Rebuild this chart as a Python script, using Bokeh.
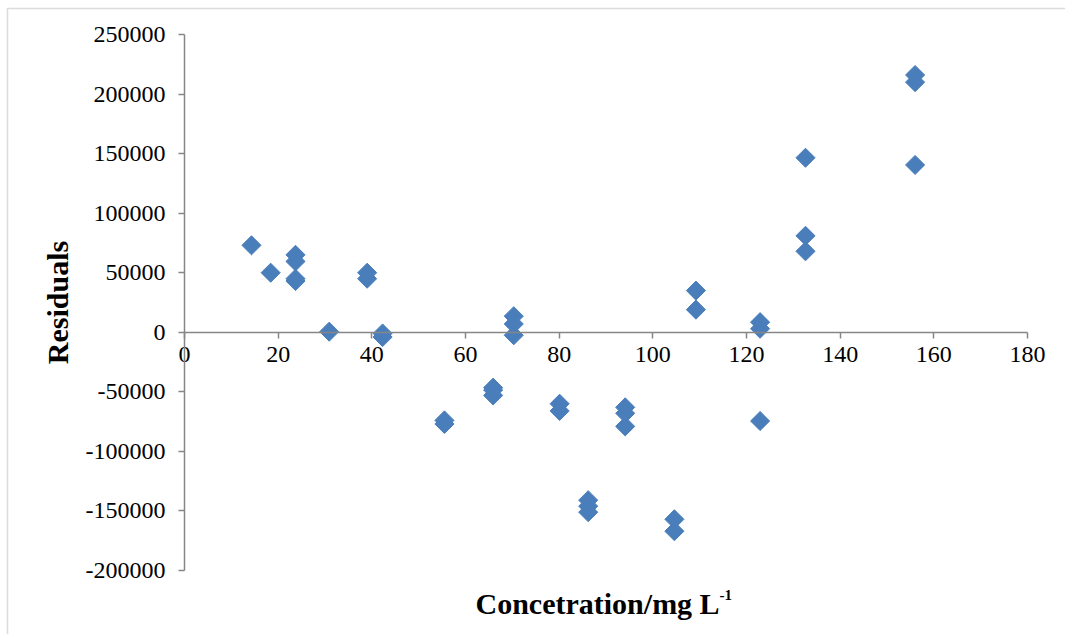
import math
from bokeh.plotting import figure
from bokeh.models import (Range1d, FixedTicker, NumeralTickFormatter, Label,
                          BoxAnnotation, ColumnDataSource, LinearAxis)
from bokeh.embed import file_html
from bokeh.resources import INLINE

# Residuals of the calibration fit, per standard concentration (mg/L)
conc = [14.3, 18.4, 23.7, 23.7, 23.7, 23.7, 30.9, 39.0, 39.0, 42.3, 42.3,
        55.5, 55.5, 65.9, 65.9, 65.9, 70.3, 70.3, 70.3, 80.1, 80.1,
        86.2, 86.2, 86.2, 94.1, 94.1, 94.1, 104.6, 104.6, 109.2, 109.2,
        122.9, 122.9, 122.9, 132.6, 132.6, 132.6, 156.0, 156.0, 156.0]
residuals = [73000, 50000, 65000, 59500, 45000, 43000, 500, 50000, 45000, -1000, -4000,
             -74000, -77000, -46500, -48500, -53000, 13500, 7000, -2500, -60000, -66000,
             -141000, -146000, -151000, -63000, -68000, -79000, -157000, -167000, 35000, 19000,
             8500, 3000, -74500, 146500, 81000, 68000, 216000, 210000, 140500]

x_ticks = [0, 20, 40, 60, 80, 100, 120, 140, 160, 180]
y_ticks = [-200000, -150000, -100000, -50000, 0, 50000, 100000, 150000, 200000, 250000]

x_title = "Concetration/mg L"
x_title_sup = "-1"
y_title = "Residuals"

SERIF = "Liberation Serif"
AXIS_GREY = "#868686"

# Canvas and placement of the axes box (pixels from top-left)
W, H = 1065, 634
BOX_L, BOX_R, BOX_T, BOX_B = 184, 1027, 34, 570
X0, X1 = x_ticks[0], x_ticks[-1]
Y0, Y1 = y_ticks[0], y_ticks[-1]

x_per_px = (X1 - X0) / (BOX_R - BOX_L)
y_per_px = (Y1 - Y0) / (BOX_B - BOX_T)


def px_x(px):
    return X0 + (px - BOX_L) * x_per_px


def px_y(py):
    return Y1 - (py - BOX_T) * y_per_px


# the plotting frame fills the whole canvas; axes sit at fixed locations inside it
p = figure(width=W, height=H, output_backend="svg", toolbar_location=None,
           x_range=Range1d(px_x(0), px_x(W)), y_range=Range1d(px_y(H), px_y(0)),
           x_axis_location=None, y_axis_location=None,
           min_border=0)
p.outline_line_color = None
p.xgrid.visible = False
p.ygrid.visible = False


def style_axis(ax):
    ax.minor_tick_line_color = None
    ax.major_tick_in = 0
    ax.major_tick_out = 6
    ax.axis_line_color = AXIS_GREY
    ax.major_tick_line_color = AXIS_GREY
    ax.axis_line_width = 1.5
    ax.major_tick_line_width = 1.5
    ax.major_label_text_font = SERIF
    ax.major_label_text_font_size = "24px"
    ax.major_label_text_color = "black"
    ax.formatter = NumeralTickFormatter(format="0")


xa = LinearAxis(fixed_location=0, bounds=(X0, X1), ticker=FixedTicker(ticks=x_ticks))
style_axis(xa)
xa.major_label_standoff = 9
p.add_layout(xa, "below")

ya = LinearAxis(fixed_location=0, bounds=(Y0, Y1), ticker=FixedTicker(ticks=y_ticks))
style_axis(ya)
ya.major_label_standoff = 13
p.add_layout(ya, "left")

src = ColumnDataSource(data=dict(x=conc, y=residuals))
p.scatter("x", "y", source=src, marker="square", size=13.5, angle=math.pi / 4,
          fill_color="#4A7EBB", line_color="#4A7EBB", line_width=1)

# axis titles
p.add_layout(Label(x=px_x(475), y=px_y(603), text=x_title,
                   text_font=SERIF, text_font_style="bold", text_font_size="30px",
                   text_baseline="alphabetic", text_align="left", text_color="black"))
p.add_layout(Label(x=px_x(719), y=px_y(594), text=x_title_sup,
                   text_font=SERIF, text_font_style="bold", text_font_size="15px",
                   text_baseline="alphabetic", text_align="left", text_color="black"))
p.add_layout(Label(x=px_x(57), y=px_y(302), text=y_title,
                   angle=math.pi / 2, text_font=SERIF, text_font_style="bold",
                   text_font_size="30px", text_baseline="middle", text_align="center",
                   text_color="black"))

# chart-area border (right and bottom edges fall outside the canvas)
p.add_layout(BoxAnnotation(left=px_x(7), right=px_x(W + 20), top=px_y(8), bottom=px_y(H + 20),
                           fill_color=None, line_color="#8c8c8c", line_width=1.5))

open("out.html", "w").write(file_html(p, INLINE))
